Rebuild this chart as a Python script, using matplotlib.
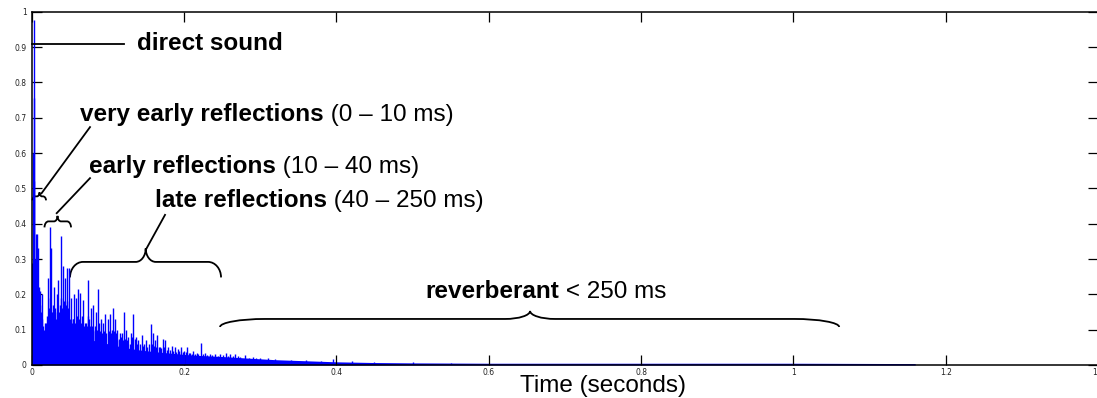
import matplotlib
matplotlib.use("Agg")
import matplotlib.pyplot as plt
import numpy as np
from matplotlib.path import Path
from matplotlib.patches import PathPatch
from matplotlib.transforms import offset_copy

# ---------------- data ----------------
# main (tallest) reflections
spike_t = [0.0008, 0.0018, 0.0025, 0.0030, 0.0035, 0.0050, 0.0065, 0.0083, 0.0104, 0.0131,
           0.0170, 0.0210, 0.0236, 0.0253, 0.0275, 0.0297, 0.0328, 0.0350, 0.0380, 0.0411,
           0.0437, 0.0459, 0.0490, 0.0512, 0.0538, 0.0560, 0.0582, 0.0608, 0.0634, 0.0661,
           0.0678, 0.0713, 0.0744, 0.0774, 0.0810, 0.0845, 0.0871, 0.0906, 0.0932, 0.0967,
           0.0998, 0.1028, 0.1063, 0.1090, 0.1125, 0.1160, 0.1190, 0.1212, 0.1239, 0.1269,
           0.1300, 0.1334, 0.1365, 0.1400, 0.1445, 0.1480, 0.1505, 0.1540, 0.1563, 0.1590,
           0.1615, 0.1650, 0.1685, 0.1720, 0.1755, 0.1795, 0.1840, 0.1880, 0.1925, 0.1960,
           0.2000, 0.2035, 0.2080, 0.2120, 0.2165, 0.2228, 0.2275, 0.2340, 0.2405, 0.2470,
           0.2550, 0.2600, 0.2670, 0.2710, 0.2800, 0.2900, 0.3000, 0.3100, 0.3200, 0.3400,
           0.3600, 0.3800, 0.3960, 0.4200, 0.4500, 0.5000, 0.5500]
spike_v = [0.29, 0.60, 0.52, 0.755, 0.977, 0.37, 0.37, 0.33, 0.21, 0.20,
           0.12, 0.245, 0.39, 0.33, 0.17, 0.22, 0.20, 0.24, 0.365, 0.28,
           0.245, 0.275, 0.275, 0.19, 0.13, 0.20, 0.19, 0.215, 0.205, 0.14,
           0.185, 0.12, 0.24, 0.16, 0.17, 0.15, 0.215, 0.13, 0.12, 0.145,
           0.13, 0.145, 0.16, 0.13, 0.10, 0.09, 0.09, 0.15, 0.10, 0.08,
           0.09, 0.145, 0.08, 0.07, 0.085, 0.06, 0.07, 0.06, 0.115, 0.09,
           0.07, 0.085, 0.05, 0.075, 0.07, 0.05, 0.055, 0.05, 0.045, 0.05,
           0.04, 0.05, 0.035, 0.04, 0.035, 0.061, 0.035, 0.03, 0.03, 0.03,
           0.035, 0.03, 0.03, 0.025, 0.028, 0.022, 0.02, 0.02, 0.017, 0.015,
           0.013, 0.012, 0.016, 0.010, 0.009, 0.008, 0.007]

# smaller reflections between the main ones
minor_t = [0.0045, 0.0058, 0.0074, 0.0092, 0.0115, 0.0122, 0.0140, 0.0150, 0.0160, 0.0185,
           0.0195, 0.0222, 0.0245, 0.0262, 0.0285, 0.0310, 0.0318, 0.0338, 0.0360, 0.0368,
           0.0390, 0.0400, 0.0420, 0.0428, 0.0448, 0.0470, 0.0480, 0.0500, 0.0525, 0.0548,
           0.0570, 0.0595, 0.0620, 0.0648, 0.0690, 0.0700, 0.0725, 0.0735, 0.0755, 0.0765,
           0.0790, 0.0800, 0.0825, 0.0835, 0.0858, 0.0885, 0.0895, 0.0918, 0.0945, 0.0955,
           0.0980, 0.1010, 0.1040, 0.1050, 0.1078, 0.1100, 0.1110, 0.1140, 0.1150, 0.1175,
           0.1200, 0.1225, 0.1255, 0.1285, 0.1315, 0.1320, 0.1350, 0.1380, 0.1420, 0.1460,
           0.1520, 0.1575, 0.1600, 0.1630, 0.1670, 0.1700, 0.1740, 0.1770, 0.1820, 0.1860,
           0.1900, 0.1940, 0.1980, 0.2020, 0.2060, 0.2100, 0.2140, 0.2190, 0.2250, 0.2300,
           0.2370, 0.2440, 0.2510, 0.2580, 0.2640, 0.2740, 0.2850, 0.2950]
minor_v = [0.30, 0.28, 0.30, 0.22, 0.17, 0.15, 0.13, 0.11, 0.10, 0.12,
           0.14, 0.16, 0.19, 0.15, 0.15, 0.16, 0.13, 0.15, 0.15, 0.17,
           0.19, 0.16, 0.18, 0.15, 0.17, 0.18, 0.16, 0.13, 0.12, 0.13,
           0.12, 0.14, 0.13, 0.12, 0.11, 0.12, 0.11, 0.14, 0.13, 0.11,
           0.11, 0.10, 0.11, 0.095, 0.10, 0.12, 0.095, 0.09, 0.095, 0.085,
           0.09, 0.095, 0.09, 0.10, 0.095, 0.085, 0.09, 0.075, 0.07, 0.08,
           0.07, 0.075, 0.07, 0.06, 0.065, 0.08, 0.075, 0.06, 0.06, 0.055,
           0.052, 0.06, 0.055, 0.05, 0.05, 0.047, 0.05, 0.043, 0.043, 0.04,
           0.036, 0.04, 0.036, 0.036, 0.035, 0.032, 0.032, 0.031, 0.03, 0.028,
           0.028, 0.026, 0.028, 0.026, 0.025, 0.023, 0.021, 0.019]

# dense low-level part (solid blue base)
floor_t = [0.000, 0.004, 0.008, 0.012, 0.016, 0.020, 0.030, 0.040, 0.050, 0.060, 0.080,
           0.100, 0.120, 0.140, 0.160, 0.180, 0.200, 0.220, 0.250, 0.280, 0.320, 0.360,
           0.400, 0.450, 0.500, 0.600, 0.800, 1.000, 1.160]
floor_v = [0.28, 0.28, 0.16, 0.09, 0.08, 0.085, 0.09, 0.09, 0.085, 0.08, 0.07,
           0.06, 0.05, 0.043, 0.038, 0.034, 0.03, 0.027, 0.024, 0.02, 0.015, 0.012,
           0.009, 0.007, 0.006, 0.005, 0.005, 0.005, 0.004]

x_ticks = [0, 0.2, 0.4, 0.6, 0.8, 1.0, 1.2, 1.4]
x_ticklabels = ["0", "0.2", "0.4", "0.6", "0.8", "1", "1.2", "1.4"]
y_ticks = [0, 0.1, 0.2, 0.3, 0.4, 0.5, 0.6, 0.7, 0.8, 0.9, 1.0]
y_ticklabels = ["0", "0.1", "0.2", "0.3", "0.4", "0.5", "0.6", "0.7", "0.8", "0.9", "1"]

# annotations: (bold part, normal part)
labels = [("direct sound", ""),
          ("very early reflections", " (0 \u2013 10 ms)"),
          ("early reflections", " (10 \u2013 40 ms)"),
          ("late reflections", " (40 \u2013 250 ms)"),
          ("reverberant", " < 250 ms")]

# ---------------- figure ----------------
W, H = 1097, 398
fig = plt.figure(figsize=(W / 100, H / 100), dpi=100)
ax = fig.add_axes([31.7 / W, (H - 365) / H, (1098 - 31.7) / W, (365 - 11.7) / H])

blue = (0, 0, 1)
ax.fill_between(floor_t, 0, floor_v, color=blue, lw=0)
ax.vlines(minor_t, 0, minor_v, color=blue, lw=1.0, snap=True)
ax.vlines(spike_t, 0, spike_v, color=blue, lw=1.0, snap=True)

ax.set_xlim(0, 1.4)
ax.set_ylim(0, 1)
ax.set_xticks(x_ticks)
ax.set_xticklabels(x_ticklabels)
ax.set_yticks(y_ticks)
ax.set_yticklabels(y_ticklabels)
ax.tick_params(direction="in", length=7.2, width=0.9, top=True, right=True,
               labelsize=5.5, colors="black")
ax.tick_params(axis="y", pad=3.5)
ax.tick_params(axis="x", pad=2.0)
for lab in ax.get_xticklabels() + ax.get_yticklabels():
    lab.set_family("DejaVu Sans")
    lab.set_color("#222222")
for s in ax.spines.values():
    s.set_linewidth(1.1)

fs = 17.5
fam = "Liberation Sans"

def px2data(x, y):
    return (x - 31.7) / 761.5, (365 - y) / 353.0

def mixed_text(xpx, ypx, bold, normal):
    x, y = px2data(xpx, ypx)
    t1 = ax.text(x, y, bold, fontsize=fs, fontweight="bold", family=fam, va="baseline", ha="left")
    if normal:
        fig.canvas.draw()
        w = t1.get_window_extent().width
        tr = offset_copy(ax.transData, fig=fig, x=w, y=0, units="dots")
        ax.text(x, y, normal, fontsize=fs, family=fam, va="baseline", ha="left", transform=tr)

text_pos = [(137, 50), (80, 121.7), (89.3, 173.3), (155, 206.7), (425, 298.3)]
for (b, n), (xp, yp) in zip(labels, text_pos):
    mixed_text(xp, yp, b, n)

def line_px(x0, y0, x1, y1):
    a = px2data(x0, y0)
    b = px2data(x1, y1)
    ax.plot([a[0], b[0]], [a[1], b[1]], color="black", lw=1.3, clip_on=False)

line_px(31.7, 44, 124, 44)
line_px(90, 127.3, 41.5, 193.5)
line_px(90, 178.3, 56.7, 213.3)
line_px(165, 215, 145.7, 250)

k = 0.5523
def brace_px(x0, x1, xm, y, hu, hd, rxe, rxt):
    P = []
    C = []
    def add(pt, code):
        P.append(px2data(*pt)); C.append(code)
    add((x0, y + hd), Path.MOVETO)
    add((x0, y + hd - k * hd), Path.CURVE4)
    add((x0 + rxe - k * rxe, y), Path.CURVE4)
    add((x0 + rxe, y), Path.CURVE4)
    add((xm - rxt, y), Path.LINETO)
    add((xm - rxt + k * rxt, y), Path.CURVE4)
    add((xm, y - hu + k * hu), Path.CURVE4)
    add((xm, y - hu), Path.CURVE4)
    add((xm, y - hu + k * hu), Path.CURVE4)
    add((xm + rxt - k * rxt, y), Path.CURVE4)
    add((xm + rxt, y), Path.CURVE4)
    add((x1 - rxe, y), Path.LINETO)
    add((x1 - rxe + k * rxe, y), Path.CURVE4)
    add((x1, y + hd - k * hd), Path.CURVE4)
    add((x1, y + hd), Path.CURVE4)
    patch = PathPatch(Path(P, C), fill=False, edgecolor="black", lw=1.3, clip_on=False)
    ax.add_patch(patch)

brace_px(32.5, 46, 39.5, 196.5, 4, 4, 3, 2.5)
brace_px(44.5, 71, 57.5, 221.5, 5.5, 6, 4, 3.5)
brace_px(70, 221, 145.7, 262, 13.5, 15.5, 13, 10)
brace_px(220, 839, 530, 319, 8, 8, 45, 25)

fig.text(603 / W, (H - 391.7) / H, "Time (seconds)", fontsize=fs, family=fam,
         ha="center", va="baseline")

fig.savefig("out.png", dpi=100)
